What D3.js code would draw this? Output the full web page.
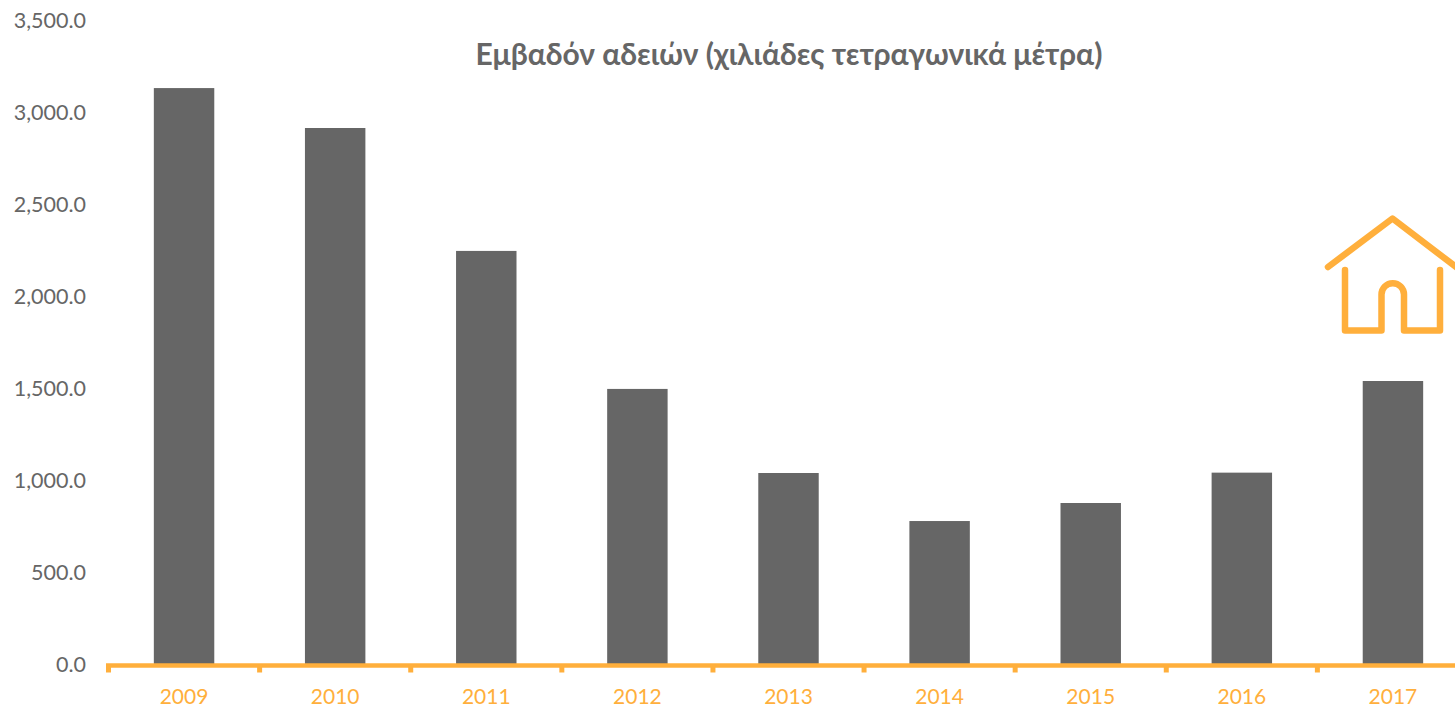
<!DOCTYPE html>
<html><head><meta charset="utf-8">
<script src="https://cdn.jsdelivr.net/npm/d3@7"></script>
<style>html,body{margin:0;padding:0;background:#fff}svg{display:block}text{font-family:Lato,"Open Sans","Noto Sans",sans-serif}</style>
</head><body><svg id="c" width="1455" height="707"></svg>
<script>
const years = ["2009","2010","2011","2012","2013","2014","2015","2016","2017"];
const areas = [3130,2913,2245,1495,1038,777,875,1040,1538];
const yTicks = [0,500,1000,1500,2000,2500,3000,3500];
const chartTitle = "Εμβαδόν αδειών (χιλιάδες τετραγωνικά μέτρα)";

const svg = d3.select("#c");
const x = d3.scaleBand().domain(years).range([108.5,1468.5]).paddingInner(0.6).paddingOuter(0.3);
const y = d3.scaleLinear().domain([0,3500]).range([664,20]);
const gray="#666666", orange="#FFAF3C";

svg.selectAll("rect.bar").data(years).join("rect").attr("class","bar")
  .attr("x",d=>x(d)).attr("width",x.bandwidth())
  .attr("y",(d,i)=>y(areas[i])).attr("height",(d,i)=>y(0)-y(areas[i])).attr("fill",gray);

const fmt = d3.format(",.1f");
svg.selectAll("text.yl").data(yTicks).join("text").attr("class","yl")
  .attr("x",86).attr("y",d=>y(d)).attr("dy","0.35em").attr("text-anchor","end")
  .attr("font-size",21.5).attr("fill",gray).text(d=>fmt(d));

svg.append("line").attr("x1",106).attr("x2",1455).attr("y1",y(0)+1.5).attr("y2",y(0)+1.5)
  .attr("stroke",orange).attr("stroke-width",4.5);
const step = x.step();
svg.selectAll("line.tick").data(d3.range(years.length+1)).join("line").attr("class","tick")
  .attr("x1",i=>x(years[0])-x.paddingOuter()*step+i*step)
  .attr("x2",i=>x(years[0])-x.paddingOuter()*step+i*step)
  .attr("y1",y(0)).attr("y2",y(0)+8.5).attr("stroke",orange).attr("stroke-width",5);

svg.selectAll("text.xl").data(years).join("text").attr("class","xl")
  .attr("x",d=>x(d)+x.bandwidth()/2).attr("y",703.5).attr("text-anchor","middle")
  .attr("font-size",21).attr("fill",orange).text(d=>d);

svg.append("text").attr("x",789).attr("y",64.5).attr("text-anchor","middle")
  .attr("font-size",30).attr("font-weight",700).attr("fill",gray).text(chartTitle);

const icon = svg.append("g").attr("fill","none").attr("stroke",orange).attr("stroke-width",6.5)
  .attr("stroke-linecap","round").attr("stroke-linejoin","round");
icon.append("path").attr("d","M1328,267L1392.5,218.5L1460,270");
icon.append("path").attr("d","M1345,270V330.5H1381.5V294.5A11.2,11.2 0 0 1 1404,294.5V330.5H1440V270");
</script></body></html>
